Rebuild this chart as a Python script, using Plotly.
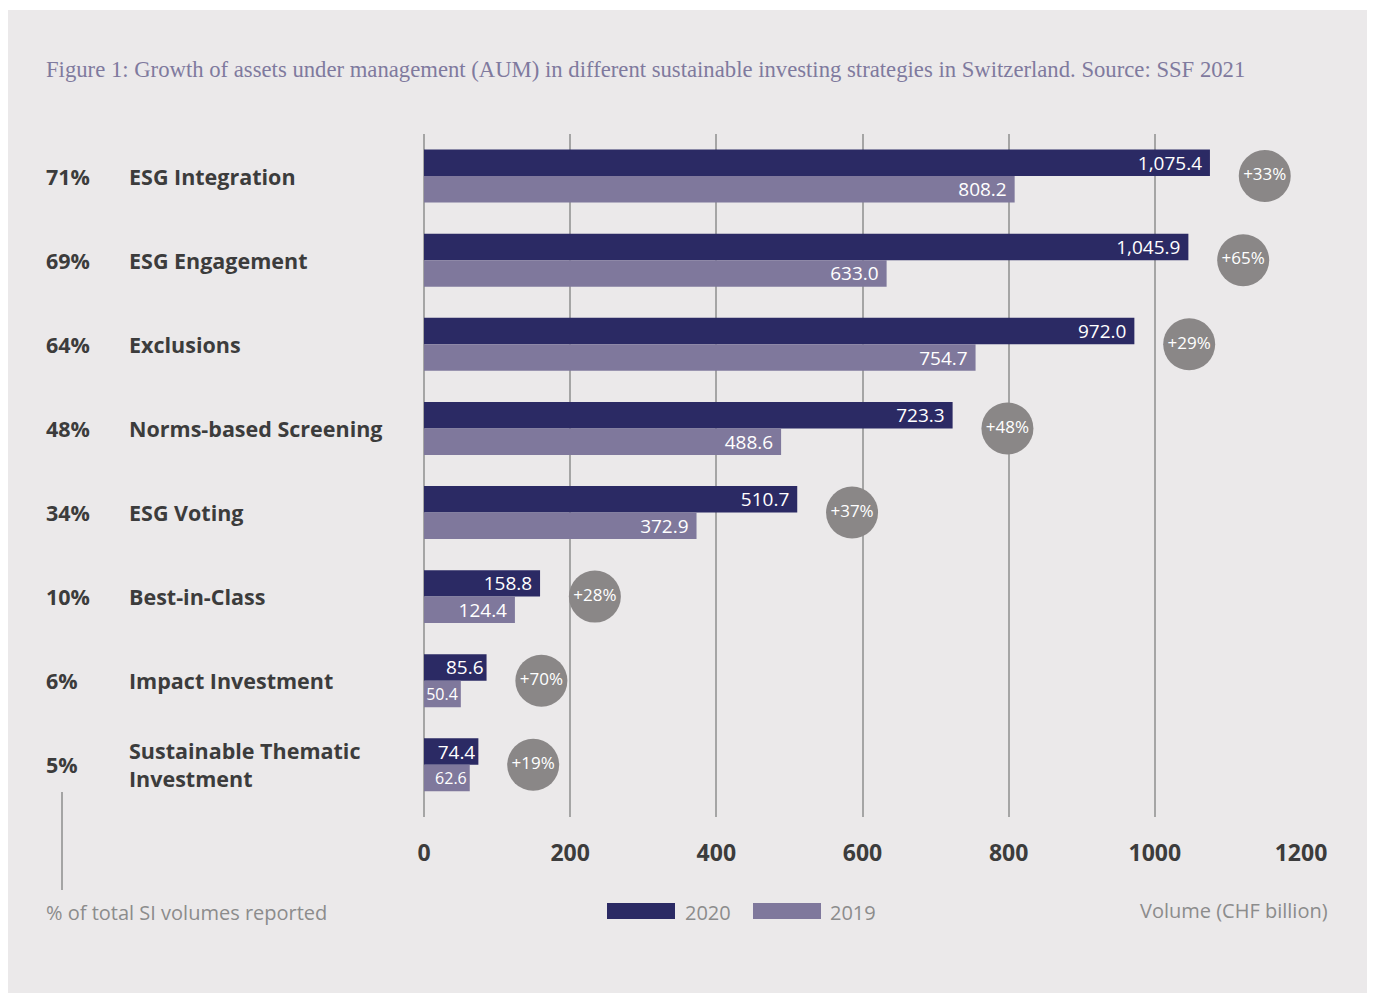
import plotly.graph_objects as go

categories = ["ESG Integration", "ESG Engagement", "Exclusions", "Norms-based Screening",
              "ESG Voting", "Best-in-Class", "Impact Investment",
              "Sustainable Thematic<br>Investment"]
share_pct = ["71%", "69%", "64%", "48%", "34%", "10%", "6%", "5%"]
vol_2020 = [1075.4, 1045.9, 972.0, 723.3, 510.7, 158.8, 85.6, 74.4]
vol_2019 = [808.2, 633.0, 754.7, 488.6, 372.9, 124.4, 50.4, 62.6]
growth = ["+33%", "+65%", "+29%", "+48%", "+37%", "+28%", "+70%", "+19%"]
x_ticks = [0, 200, 400, 600, 800, 1000, 1200]
series_names = ["2020", "2019"]

C2020 = "#2B2A64"
C2019 = "#7F789C"
PANEL = "#EBE9EA"
DARK = "#3C3C3C"
GREY = "#8C8C8C"

OFF = 8  # page body margin
W, H = 1375 - OFF, 993 - OFF
L, R, T, B = 424 - OFF, 74, 134 - OFF, 176
PW, PH = W - L - R, H - T - B


def px2x(px):  # screen px -> paper
    return (px - OFF - L) / PW


def px2y(py):
    return (H - B - (py - OFF)) / PH


def bar_labels(vals):
    # trailing space gives right padding on the longer bars
    return [f"{v:,.1f}" + ("\u00a0" if v >= 100 else "") for v in vals]


def bar_sizes(vals):
    return [19 if v >= 70 else 16 for v in vals]


fig = go.Figure()
for name, vals, col in [(series_names[0], vol_2020, C2020), (series_names[1], vol_2019, C2019)]:
    fig.add_trace(go.Bar(
        y=categories, x=vals, orientation="h", name=name,
        marker=dict(color=col, line=dict(width=0)),
        text=bar_labels(vals), textposition="inside", insidetextanchor="end",
        textfont=dict(family="Open Sans", size=bar_sizes(vals), color="white"),
        constraintext="none", cliponaxis=False, showlegend=False,
    ))
# growth bubbles placed just beyond the 2020 bar
fig.add_trace(go.Scatter(
    y=categories, x=[v + 75 for v in vol_2020], mode="markers+text",
    marker=dict(size=52, color="#8A8787", line=dict(width=0)),
    text=growth, textposition="middle center",
    textfont=dict(family="Open Sans", size=17, color="white"),
    cliponaxis=False, showlegend=False, hoverinfo="skip",
))

shapes = [
    dict(type="rect", xref="paper", yref="paper", x0=px2x(7), x1=px2x(1370),
         y0=px2y(1000), y1=px2y(10), fillcolor=PANEL, line=dict(width=0), layer="below"),
    dict(type="line", xref="paper", yref="paper", x0=px2x(62), x1=px2x(62),
         y0=px2y(792), y1=px2y(890), line=dict(color="#8C8C8C", width=1.5)),
    dict(type="rect", xref="paper", yref="paper", x0=px2x(607), x1=px2x(675),
         y0=px2y(919), y1=px2y(903), fillcolor=C2020, line=dict(width=0)),
    dict(type="rect", xref="paper", yref="paper", x0=px2x(753), x1=px2x(821),
         y0=px2y(919), y1=px2y(903), fillcolor=C2019, line=dict(width=0)),
]

LBL = dict(family="Open Sans", size=21.5, color=DARK, weight="bold")
annotations = []
for cat, pct in zip(categories, share_pct):
    annotations.append(dict(x=px2x(44), y=cat, xref="paper", yref="y", text=pct,
                            showarrow=False, xanchor="left", yanchor="middle", font=LBL))
    annotations.append(dict(x=px2x(127), y=cat, xref="paper", yref="y", text=cat,
                            showarrow=False, xanchor="left", yanchor="middle", align="left",
                            font=LBL))

SMALL = dict(family="Open Sans", size=20, color=GREY)
annotations += [
    dict(x=px2x(44), y=px2y(69), xref="paper", yref="paper", showarrow=False,
         xanchor="left", yanchor="middle",
         text="Figure 1: Growth of assets under management (AUM) in different sustainable investing strategies in Switzerland. Source: SSF 2021",
         font=dict(family="Liberation Serif", size=22.7, color="#7F7A9E")),
    dict(x=px2x(44), y=px2y(912), xref="paper", yref="paper", showarrow=False,
         xanchor="left", yanchor="middle", text="% of total SI volumes reported", font=SMALL),
    dict(x=px2x(683), y=px2y(912), xref="paper", yref="paper", showarrow=False,
         xanchor="left", yanchor="middle", text=series_names[0], font=SMALL),
    dict(x=px2x(828), y=px2y(912), xref="paper", yref="paper", showarrow=False,
         xanchor="left", yanchor="middle", text=series_names[1], font=SMALL),
    dict(x=px2x(1330), y=px2y(910), xref="paper", yref="paper", showarrow=False,
         xanchor="right", yanchor="middle", text="Volume (CHF billion)", font=SMALL),
]

fig.update_layout(
    width=W, height=H,
    margin=dict(l=L, r=R, t=T, b=B, pad=0),
    paper_bgcolor="white", plot_bgcolor="rgba(0,0,0,0)",
    barmode="group", bargap=0.37, bargroupgap=0,
    shapes=shapes, annotations=annotations,
    xaxis=dict(range=[0, 1200], tickvals=x_ticks, ticktext=[str(t) for t in x_ticks],
               showgrid=True, gridcolor="#A5A5A5", gridwidth=1.5,
               zeroline=True, zerolinecolor="#A5A5A5", zerolinewidth=1.5,
               showline=False, ticks="", ticklabelstandoff=20,
               tickfont=dict(family="Open Sans", size=23, color=DARK, weight="bold")),
    yaxis=dict(categoryorder="array", categoryarray=categories, range=[7.62, -0.5],
               showticklabels=False, showgrid=False, zeroline=False, ticks=""),
)

fig.write_html("out.html")
